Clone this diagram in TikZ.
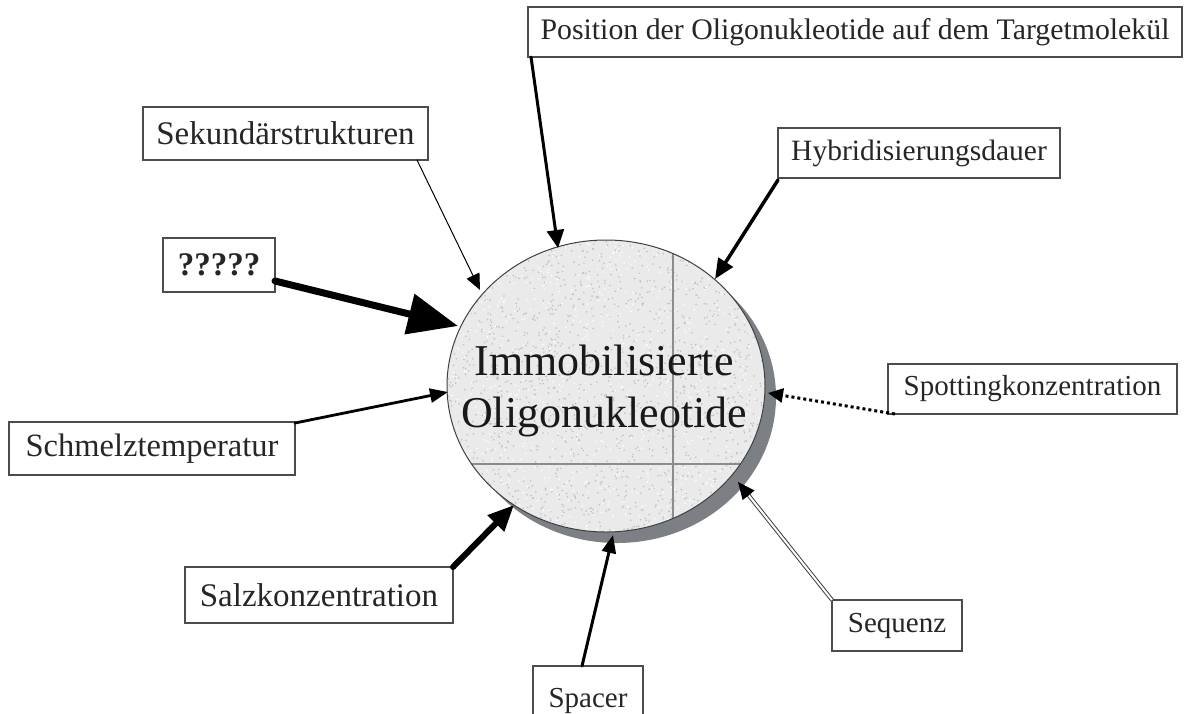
\documentclass[tikz,border=0pt]{standalone}
\usepackage{fontspec}
\setmainfont{Liberation Serif}
\usetikzlibrary{arrows.meta,calc}
\definecolor{shadowgray}{HTML}{7C8085}
\definecolor{circfill}{HTML}{EAEAEA}
\begin{document}
\begin{tikzpicture}[x=1pt,y=-1pt,
  box/.style={draw=black!70,line width=1.3pt,fill=white,inner sep=0pt,text=black!85,
    font=\fontsize{29}{34}\selectfont},
  big/.style={font=\fontsize{33}{38}\selectfont},
  conn/.style={draw=black,line cap=round}]
\useasboundingbox (0,0) rectangle (1185,713);
\clip (0,0) rectangle (1185,713);
% shadow and circle
\fill[shadowgray] (617,397) ellipse [x radius=159, y radius=146];
\fill[circfill] (606,386) ellipse [x radius=159, y radius=146];
\begin{scope}
  \clip (606,386) ellipse [x radius=159, y radius=146];
  \pgfmathsetseed{7}
  \foreach \i in {1,...,1600}{
    \fill[black!24] ({447+rnd*318},{240+rnd*292}) circle (0.9);
  }
  \foreach \i in {1,...,800}{
    \fill[white] ({447+rnd*318},{240+rnd*292}) circle (0.9);
  }
  \draw[black!45, line width=1.3pt] (673,230) -- (673,540);
  \draw[black!45, line width=1.3pt] (440,464) -- (770,464);
\end{scope}
\draw[black!75, line width=1pt] (606,386) ellipse [x radius=159, y radius=146];
\node[font=\fontsize{44}{52}\selectfont, align=center, text=black!90] (cent) at (604,391)
  {Immobilisierte\\Oligonukleotide};
% boxes
\node[box, font=\fontsize{29.8}{34}\selectfont, minimum width=654pt, minimum height=50pt] (pos) at (855,32)
  {Position der Oligonukleotide auf dem Targetmolekül};
\node[box, big, minimum width=285pt, minimum height=53pt] (sek) at (285.5,133.5) {Sekundärstrukturen};
\node[box, font=\fontsize{29.5}{34}\selectfont, minimum width=282pt, minimum height=50pt] (hyb) at (919,153) {Hybridisierungsdauer};
\node[box, minimum width=112pt, minimum height=54pt, font=\fontsize{33}{38}\selectfont\bfseries] (q) at (219,265) {?????};
\node[box, minimum width=289pt, minimum height=50pt] (spot) at (1032.5,389) {Spottingkonzentration};
\node[box, font=\fontsize{32.5}{38}\selectfont, minimum width=286pt, minimum height=53pt] (schm) at (152,448.5) {Schmelztemperatur};
\node[box, big, minimum width=268pt, minimum height=56pt] (salz) at (319,595) {Salzkonzentration};
\node[box, minimum width=130pt, minimum height=51pt] (seq) at (897,625.5) {Sequenz};
\node[box, minimum width=110pt, minimum height=64pt, text depth=0pt] (spac) at (588,698) {Spacer};
% connector ends
\coordinate (posS) at (531,57);   \coordinate (posT) at (558,248);
\coordinate (sekS) at (417,160);  \coordinate (sekT) at (480,290);
\coordinate (qS) at (275,281);    \coordinate (qT) at (458,326);
\coordinate (schS) at (295,423);  \coordinate (schT) at (448,392);
\coordinate (salS) at (453,567);  \coordinate (salT) at (514,505);
\coordinate (spaS) at (582,666);  \coordinate (spaT) at (613,535);
\coordinate (seqS) at (832,600);  \coordinate (seqT) at (738,482);
\coordinate (spoS) at (895,414);  \coordinate (spoT) at (768,393);
\coordinate (hybS) at (778,180);  \coordinate (hybT) at (715,279);
% connectors
\draw[conn, line width=3pt, -{Triangle[length=18pt,width=17pt]}] (posS) -- (posT);
\draw[conn, line width=1pt, -{Triangle[length=16pt,width=14pt]}] (sekS) -- (sekT);
\draw[conn, line width=7pt, -{Triangle[length=50pt,width=40pt]}] (qS) -- (qT);
\draw[conn, line width=2.8pt, -{Triangle[length=18pt,width=14pt]}] (schS) -- (schT);
\draw[conn, line width=6pt, -{Triangle[length=26pt,width=22pt]}] (salS) -- (salT);
\draw[conn, line width=3pt, -{Triangle[length=18pt,width=14pt]}] (spaS) -- (spaT);
\draw[conn, line width=3.5pt, -{Triangle[length=20pt,width=17pt]}] (hybS) -- (hybT);
\draw[conn, line width=3pt, line cap=butt, dash pattern=on 3pt off 3pt,
  -{Triangle[length=15pt,width=14pt]}] (spoS) -- (spoT);
\draw[draw=black!75, double=white, double distance=2pt, line width=1pt]
  (seqS) -- ($(seqT)!12pt!(seqS)$);
\draw[conn, line width=1pt, -{Triangle[length=17pt,width=15pt]}]
  ($(seqT)!14pt!(seqS)$) -- (seqT);
\end{tikzpicture}
\end{document}
